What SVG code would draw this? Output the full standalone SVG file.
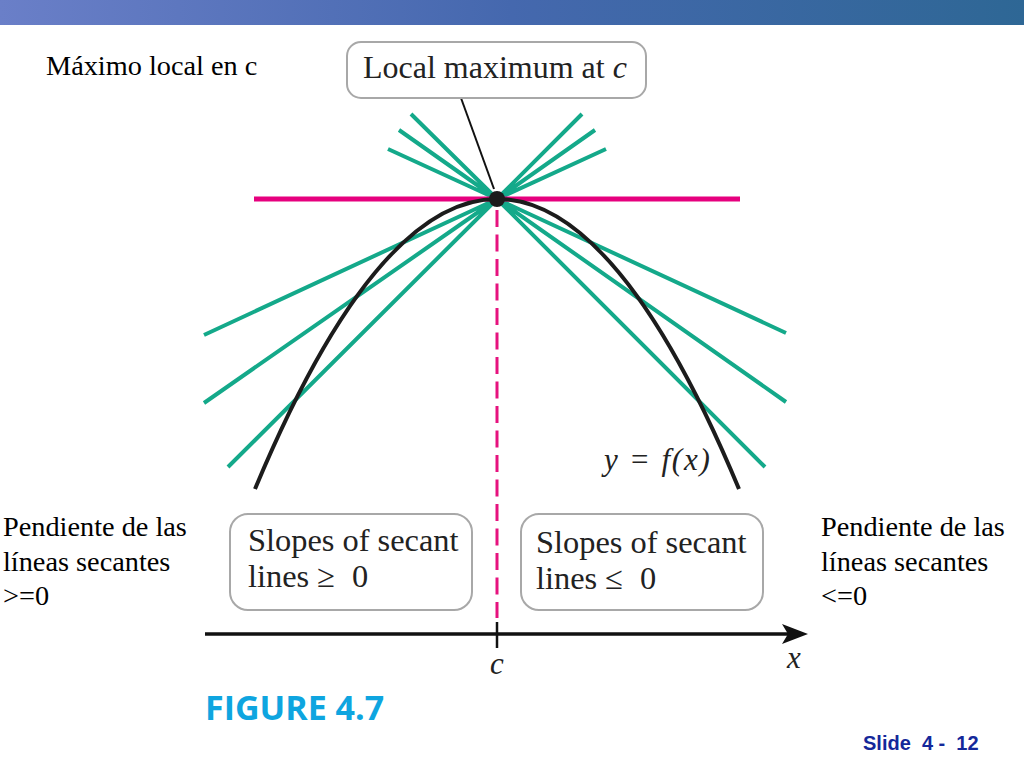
<svg xmlns="http://www.w3.org/2000/svg" width="1024" height="768" viewBox="0 0 1024 768">
<style>
.b{fill:#fff;stroke:#a8a8a8;stroke-width:2}
.s{stroke:#14a98a;stroke-width:4;fill:none}
.t{font-family:"Liberation Serif",serif;fill:#222}
.p{font-family:"Liberation Serif",serif;font-size:28.3px;fill:#000}
</style>
<defs><linearGradient id="g" x1="0" x2="1" y1="0" y2="0"><stop offset="0" stop-color="#6a7fc8"/><stop offset="0.5" stop-color="#4568ae"/><stop offset="1" stop-color="#2e6795"/></linearGradient></defs>
<rect id="topbar" width="1024" height="25" fill="url(#g)"/>
<g id="secants">
<path class="s" d="M497 199L204 335M497 199L204 403M497 199L228 467M497 199L786 333M497 199L786 402M497 199L765 467M497 199L411 114M497 199L399 130M497 199L388 149M497 199L582 114M497 199L595 130M497 199L606 149"/>
</g>
<line id="tangent" x1="254" y1="199" x2="740" y2="199" stroke="#e6007e" stroke-width="5"/>
<line id="dashed" x1="497" y1="210" x2="497" y2="618" stroke="#e6127e" stroke-width="3" stroke-dasharray="17 7.5"/>
<path id="parabola" d="M255 489Q376 199 497 199Q618 199 739 489" fill="none" stroke="#1c1c1c" stroke-width="4"/>
<line id="leader" x1="461" y1="98" x2="494" y2="189" stroke="#111" stroke-width="2"/>
<circle id="point" cx="497" cy="199" r="8" fill="#1c1c1c"/>
<g id="axis">
<line x1="205" y1="634" x2="790" y2="634" stroke="#111" stroke-width="3.5"/>
<path d="M782 624L808 634L782 644L788 634Z" fill="#111"/>
<line x1="497" y1="622" x2="497" y2="648" stroke="#111" stroke-width="2.5"/>
<text class="t" x="497" y="674" font-size="31" font-style="italic" text-anchor="middle">c</text>
<text class="t" x="794" y="668" font-size="31" font-style="italic" text-anchor="middle">x</text>
</g>
<g id="local-max">
<rect class="b" x="347" y="42" width="299" height="56" rx="14"/>
<text class="t" x="363" y="78" font-size="32">Local maximum at <tspan font-style="italic">c</tspan></text>
</g>
<g id="slopes-left">
<rect class="b" x="230" y="514" width="242" height="96" rx="18"/>
<text class="t" x="248" y="551" font-size="32.4">Slopes of secant</text>
<text class="t" y="587" font-size="32.4"><tspan x="248">lines ≥</tspan><tspan x="352">0</tspan></text>
</g>
<g id="slopes-right">
<rect class="b" x="521" y="514" width="242" height="96" rx="18"/>
<text class="t" x="536" y="553" font-size="32.4">Slopes of secant</text>
<text class="t" y="589" font-size="32.4"><tspan x="536">lines ≤</tspan><tspan x="640">0</tspan></text>
</g>
<text id="fx" class="t" x="604" y="470" font-size="31" font-style="italic" letter-spacing="1.8">y = f(x)</text>
<text id="fig" x="205" y="720" font-family="'Open Sans',sans-serif" font-weight="700" font-size="34" fill="#0ea5e0">FIGURE 4.7</text>
<text id="title" class="p" x="46" y="75">Máximo local en c</text>
<g id="label-left" class="p"><text x="3" y="536">Pendiente de las</text><text x="3" y="571">líneas secantes</text><text x="3" y="605">&gt;=0</text></g>
<g id="label-right" class="p"><text x="821" y="536">Pendiente de las</text><text x="821" y="571">líneas secantes</text><text x="821" y="605">&lt;=0</text></g>
<text id="slide" x="863" y="750" font-family="'Liberation Sans',sans-serif" font-weight="700" font-size="20" fill="#14289a" xml:space="preserve">Slide  4 -  12</text>
</svg>
